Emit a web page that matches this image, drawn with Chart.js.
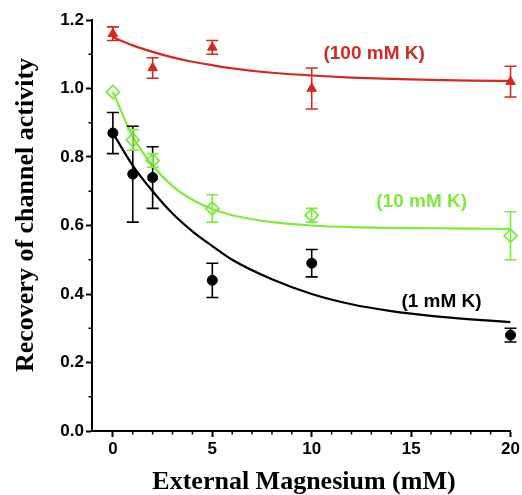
<!DOCTYPE html>
<html>
<head>
<meta charset="utf-8">
<script src="https://cdn.jsdelivr.net/npm/chart.js@4.4.1/dist/chart.umd.min.js"></script>
<style>
  html, body { margin: 0; padding: 0; background: #fff; }
  canvas { display: block; }
</style>
</head>
<body>
<canvas id="mgChart" width="522" height="495"></canvas>
<script>
// measured points (external Mg, mM)
var mgX = [0, 1, 2, 5, 10, 20];
var k1Mean = [0.87, 0.75, 0.74, 0.44, 0.49, 0.28];
var k1Err = [0.06, 0.14, 0.09, 0.05, 0.04, 0.02];
var k10Mean = [0.99, 0.85, 0.79, 0.65, 0.63, 0.57];
var k10Err = [0, 0.03, 0.02, 0.04, 0.02, 0.07];
var mgX100 = [0, 2, 5, 10, 20];
var k100Mean = [1.16, 1.06, 1.12, 1.00, 1.02];
var k100Err = [0.02, 0.03, 0.02, 0.06, 0.045];

// fitted curves
var fitX = [0, 1, 2, 3, 4, 5, 6, 8, 10, 12, 14, 16, 18, 20];
var fit1 = [0.87, 0.775, 0.70, 0.635, 0.583, 0.54, 0.50, 0.443, 0.40, 0.37, 0.35, 0.336, 0.326, 0.318];
var fit10 = [0.99, 0.86, 0.775, 0.715, 0.675, 0.648, 0.63, 0.61, 0.60, 0.595, 0.593, 0.592, 0.591, 0.59];
var fit100 = [1.15, 1.126, 1.107, 1.091, 1.078, 1.068, 1.059, 1.046, 1.038, 1.032, 1.028, 1.025, 1.023, 1.022];

// ticks
var xTicks = [0, 5, 10, 15, 20];
var yTicks = [0, 0.2, 0.4, 0.6, 0.8, 1.0, 1.2];
var xMinor = [1, 2, 3, 4, 6, 7, 8, 9, 11, 12, 13, 14, 16, 17, 18, 19];
var yMinor = [0.1, 0.3, 0.5, 0.7, 0.9, 1.1];

var RED = "#d22a22";
var GREEN = "#7eea3c";
var BLACK = "#000000";
var SERIF = "'Liberation Serif', 'Times New Roman', serif";
var SANS = "'Liberation Sans', Arial, sans-serif";

function pts(xs, ys) {
  return xs.map(function (x, i) { return { x: x, y: ys[i] }; });
}

var errorBars = {
  id: "errorBars",
  afterDatasetsDraw: function (chart) {
    var ctx = chart.ctx;
    var xs = chart.scales.x, ys = chart.scales.y;
    var sets = [
      [mgX, k1Mean, k1Err, BLACK],
      [mgX, k10Mean, k10Err, GREEN],
      [mgX100, k100Mean, k100Err, RED]
    ];
    ctx.save();
    ctx.lineWidth = 1.6;
    sets.forEach(function (s) {
      ctx.strokeStyle = s[3];
      s[0].forEach(function (x, i) {
        if (!s[2][i]) return;
        var px = xs.getPixelForValue(x);
        var top = ys.getPixelForValue(s[1][i] + s[2][i]);
        var bot = ys.getPixelForValue(s[1][i] - s[2][i]);
        ctx.beginPath();
        ctx.moveTo(px, top); ctx.lineTo(px, bot);
        ctx.moveTo(px - 6, top); ctx.lineTo(px + 6, top);
        ctx.moveTo(px - 6, bot); ctx.lineTo(px + 6, bot);
        ctx.stroke();
      });
    });
    ctx.restore();
  }
};

var extras = {
  id: "extras",
  afterDraw: function (chart) {
    var ctx = chart.ctx;
    var xs = chart.scales.x, ys = chart.scales.y;
    var a = chart.chartArea;
    ctx.save();
    // minor ticks
    ctx.strokeStyle = "#000";
    ctx.lineWidth = 1.5;
    ctx.beginPath();
    xMinor.forEach(function (v) {
      var px = xs.getPixelForValue(v);
      ctx.moveTo(px, a.bottom); ctx.lineTo(px, a.bottom + 3.5);
    });
    yMinor.forEach(function (v) {
      var py = ys.getPixelForValue(v);
      ctx.moveTo(a.left - 3.5, py); ctx.lineTo(a.left, py);
    });
    ctx.stroke();

    // curve labels
    ctx.font = "bold 19px " + SANS;
    ctx.textAlign = "center";
    ctx.textBaseline = "middle";
    ctx.fillStyle = RED;
    ctx.fillText("(100 mM K)", xs.getPixelForValue(13.14), ys.getPixelForValue(1.1));
    ctx.fillStyle = GREEN;
    ctx.fillText("(10 mM K)", xs.getPixelForValue(15.53), ys.getPixelForValue(0.67));
    ctx.fillStyle = BLACK;
    ctx.fillText("(1 mM K)", xs.getPixelForValue(16.53), ys.getPixelForValue(0.378));

    // axis titles
    ctx.fillStyle = "#000";
    ctx.font = "bold 26px " + SERIF;
    ctx.textBaseline = "alphabetic";
    ctx.fillText("External Magnesium (mM)", 304, 489);
    ctx.translate(33, 215);
    ctx.rotate(-Math.PI / 2);
    ctx.fillText("Recovery of channel activity", 0, 0);
    ctx.restore();
  }
};

var ctx = document.getElementById("mgChart").getContext("2d");
var chart = new Chart(ctx, {
  type: "scatter",
  data: {
    datasets: [
      {
        data: pts(fitX, fit100), showLine: true, borderColor: RED, borderWidth: 2.2,
        pointRadius: 0, cubicInterpolationMode: "monotone", fill: false
      },
      {
        data: pts(fitX, fit10), showLine: true, borderColor: GREEN, borderWidth: 2.2,
        pointRadius: 0, cubicInterpolationMode: "monotone", fill: false
      },
      {
        data: pts(fitX, fit1), showLine: true, borderColor: BLACK, borderWidth: 2.2,
        pointRadius: 0, cubicInterpolationMode: "monotone", fill: false
      },
      {
        data: pts(mgX100, k100Mean), pointStyle: "triangle", pointRadius: 5.5,
        backgroundColor: RED, borderColor: RED, borderWidth: 1, clip: false
      },
      {
        data: pts(mgX, k10Mean), pointStyle: "rectRot", pointRadius: 6.5,
        backgroundColor: "rgba(255,255,255,0)", borderColor: GREEN, borderWidth: 1.8, clip: false
      },
      {
        data: pts(mgX, k1Mean), pointStyle: "circle", pointRadius: 5,
        backgroundColor: BLACK, borderColor: BLACK, borderWidth: 1, clip: false
      }
    ]
  },
  options: {
    responsive: false,
    animation: false,
    devicePixelRatio: 1,
    layout: { padding: { left: 0, right: 11, top: 20, bottom: 0 } },
    plugins: { legend: { display: false }, tooltip: { enabled: false } },
    scales: {
      x: {
        type: "linear",
        min: -1.05,
        max: 20,
        afterBuildTicks: function (scale) {
          scale.ticks = xTicks.map(function (v) { return { value: v }; });
        },
        afterFit: function (scale) { scale.height = 64; },
        border: { color: "#000", width: 2 },
        grid: { drawOnChartArea: false, color: "#000", tickLength: 6, tickWidth: 2 },
        ticks: {
          color: "#000",
          padding: 2,
          font: { family: SANS, size: 17, weight: "bold" }
        }
      },
      y: {
        type: "linear",
        min: 0,
        max: 1.2,
        afterBuildTicks: function (scale) {
          scale.ticks = yTicks.map(function (v) { return { value: v }; });
        },
        afterFit: function (scale) { scale.width = 92; },
        border: { color: "#000", width: 2 },
        grid: { drawOnChartArea: false, color: "#000", tickLength: 6, tickWidth: 2 },
        ticks: {
          color: "#000",
          padding: 2,
          font: { family: SANS, size: 17, weight: "bold" },
          callback: function (v) { return v.toFixed(1); }
        }
      }
    }
  },
  plugins: [errorBars, extras]
});
</script>
</body>
</html>
